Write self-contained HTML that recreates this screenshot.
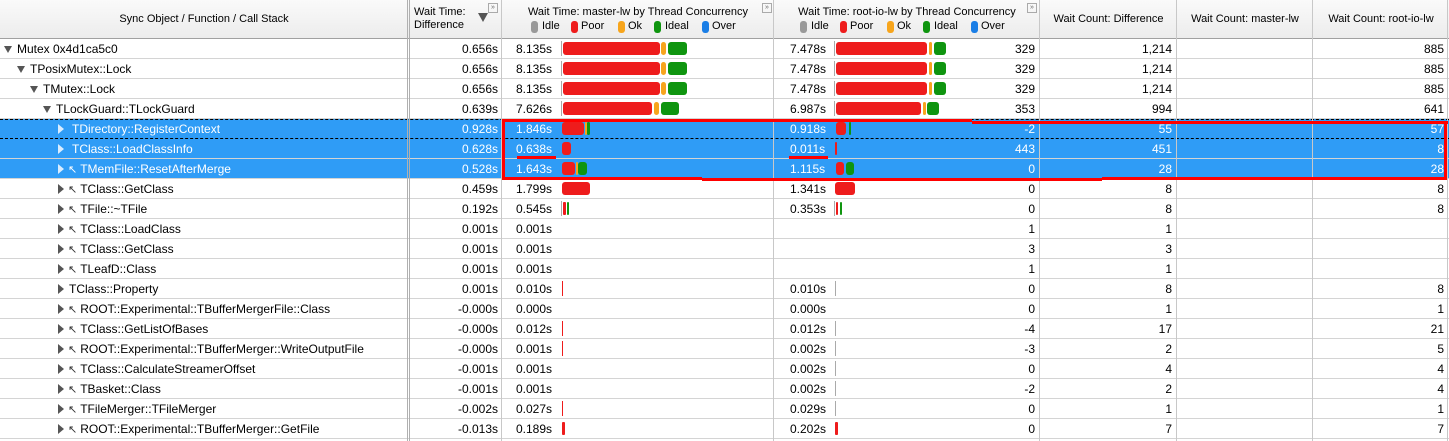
<!DOCTYPE html>
<html><head><meta charset="utf-8"><style>
body{margin:0;width:1449px;height:441px;background:#fff;font-family:"Liberation Sans",sans-serif;font-size:12px;color:#000;overflow:hidden;position:relative}
.h{position:absolute;top:0;left:0;width:1449px;height:38px;background:linear-gradient(#fafafa,#ececec);border-bottom:1px solid #a0a0a0}
.ht{position:absolute;text-align:center;font-size:11px;line-height:13px}
.vl{position:absolute;top:0;width:1px;height:441px;background:#c8c8c8}
.r{position:absolute;left:0;width:1449px;height:20px;border-bottom:1px solid #d4d4d4;box-sizing:border-box}
.s{background:#2f9cf6;color:#fff}
.r span{position:absolute;top:3px;white-space:nowrap}
.r span i{font-style:normal;font-size:11px;color:#333;margin-right:3px}
.s span i{color:#fff}
.rt{text-align:right}
.b{position:absolute;top:3px;height:13px;border-radius:3px}
.R{background:#ee1c1c}.O{background:#f7a51c}.G{background:#0f950f}
.t{position:absolute;top:4px;width:0;height:0}
.dn{border-left:4px solid transparent;border-right:4px solid transparent;border-top:7px solid #555;top:7px}
.rg{border-top:5px solid transparent;border-bottom:5px solid transparent;border-left:6px solid #555;top:5px}
.s .rg{border-left-color:#d8ecff}
.ln{position:absolute;top:2px;width:1px;height:15px;background:#aaa}
.lg{position:absolute;top:21px;height:12px;width:7px;border-radius:3px}
.red{position:absolute;background:#f00}
</style></head><body>
<div class="h">
<div class="ht" style="left:0;width:408px;top:13px">Sync Object / Function / Call Stack</div>
<div class="ht" style="left:414px;top:6px;text-align:left">Wait Time:<br>Difference</div>
<div style="position:absolute;left:478px;top:13px;border-left:5px solid transparent;border-right:5px solid transparent;border-top:9px solid #555"></div>
<div style="position:absolute;left:488px;top:3px;width:8px;height:8px;border:1px solid #aaa;font-size:7px;line-height:8px;color:#666;text-align:center">»</div>
<div class="ht" style="left:502px;width:272px;top:6px">Wait Time: master-lw by Thread Concurrency</div>
<div style="position:absolute;left:762px;top:3px;width:8px;height:8px;border:1px solid #aaa;font-size:7px;line-height:8px;color:#666;text-align:center">»</div>
<div class="lg" style="left:531px;background:#999"></div><div class="ht" style="left:542px;top:20px">Idle</div>
<div class="lg" style="left:571px;background:#ee1c1c"></div><div class="ht" style="left:581px;top:20px">Poor</div>
<div class="lg" style="left:618px;background:#f7a51c"></div><div class="ht" style="left:628px;top:20px">Ok</div>
<div class="lg" style="left:654px;background:#0f950f"></div><div class="ht" style="left:665px;top:20px">Ideal</div>
<div class="lg" style="left:702px;background:#1a7ee6"></div><div class="ht" style="left:712px;top:20px">Over</div>
<div class="ht" style="left:774px;width:266px;top:6px">Wait Time: root-io-lw by Thread Concurrency</div>
<div style="position:absolute;left:1027px;top:3px;width:8px;height:8px;border:1px solid #aaa;font-size:7px;line-height:8px;color:#666;text-align:center">»</div>
<div class="lg" style="left:800px;background:#999"></div><div class="ht" style="left:811px;top:20px">Idle</div>
<div class="lg" style="left:840px;background:#ee1c1c"></div><div class="ht" style="left:850px;top:20px">Poor</div>
<div class="lg" style="left:887px;background:#f7a51c"></div><div class="ht" style="left:897px;top:20px">Ok</div>
<div class="lg" style="left:923px;background:#0f950f"></div><div class="ht" style="left:934px;top:20px">Ideal</div>
<div class="lg" style="left:971px;background:#1a7ee6"></div><div class="ht" style="left:981px;top:20px">Over</div>
<div class="ht" style="left:1040px;width:137px;top:13px">Wait Count: Difference</div>
<div class="ht" style="left:1177px;width:136px;top:13px">Wait Count: master-lw</div>
<div class="ht" style="left:1313px;width:136px;top:13px">Wait Count: root-io-lw</div>
</div>

<div class="r" style="top:39px"><div class="t dn" style="left:4px"></div><span style="left:17px">Mutex 0x4d1ca5c0</span><span class="rt" style="right:951px">0.656s</span><span style="left:516px">8.135s</span><div class="ln" style="left:561px"></div><div class="b R" style="left:563px;width:97px"></div><div class="b O" style="left:661px;width:5px"></div><div class="b G" style="left:668px;width:19px"></div><span style="left:790px">7.478s</span><div class="ln" style="left:834px"></div><div class="b R" style="left:836px;width:91px"></div><div class="b O" style="left:929px;width:3px"></div><div class="b G" style="left:934px;width:12px"></div><span class="rt" style="right:414px">329</span><span class="rt" style="right:277px">1,214</span><span class="rt" style="right:5px">885</span></div>
<div class="r" style="top:59px"><div class="t dn" style="left:17px"></div><span style="left:30px">TPosixMutex::Lock</span><span class="rt" style="right:951px">0.656s</span><span style="left:516px">8.135s</span><div class="ln" style="left:561px"></div><div class="b R" style="left:563px;width:97px"></div><div class="b O" style="left:661px;width:5px"></div><div class="b G" style="left:668px;width:19px"></div><span style="left:790px">7.478s</span><div class="ln" style="left:834px"></div><div class="b R" style="left:836px;width:91px"></div><div class="b O" style="left:929px;width:3px"></div><div class="b G" style="left:934px;width:12px"></div><span class="rt" style="right:414px">329</span><span class="rt" style="right:277px">1,214</span><span class="rt" style="right:5px">885</span></div>
<div class="r" style="top:79px"><div class="t dn" style="left:30px"></div><span style="left:43px">TMutex::Lock</span><span class="rt" style="right:951px">0.656s</span><span style="left:516px">8.135s</span><div class="ln" style="left:561px"></div><div class="b R" style="left:563px;width:97px"></div><div class="b O" style="left:661px;width:5px"></div><div class="b G" style="left:668px;width:19px"></div><span style="left:790px">7.478s</span><div class="ln" style="left:834px"></div><div class="b R" style="left:836px;width:91px"></div><div class="b O" style="left:929px;width:3px"></div><div class="b G" style="left:934px;width:12px"></div><span class="rt" style="right:414px">329</span><span class="rt" style="right:277px">1,214</span><span class="rt" style="right:5px">885</span></div>
<div class="r" style="top:99px"><div class="t dn" style="left:43px"></div><span style="left:56px">TLockGuard::TLockGuard</span><span class="rt" style="right:951px">0.639s</span><span style="left:516px">7.626s</span><div class="ln" style="left:561px"></div><div class="b R" style="left:563px;width:89px"></div><div class="b O" style="left:654px;width:5px"></div><div class="b G" style="left:661px;width:18px"></div><span style="left:790px">6.987s</span><div class="ln" style="left:834px"></div><div class="b R" style="left:836px;width:85px"></div><div class="b O" style="left:923px;width:3px"></div><div class="b G" style="left:927px;width:12px"></div><span class="rt" style="right:414px">353</span><span class="rt" style="right:277px">994</span><span class="rt" style="right:5px">641</span></div>
<div class="r s" style="top:119px;border-bottom:1px dashed #000;border-top:1px dashed #000"><div class="t rg" style="left:58px;top:4px"></div><span style="left:72px;top:2px">TDirectory::RegisterContext</span><span class="rt" style="right:951px;top:2px">0.928s</span><span style="left:516px;top:2px">1.846s</span><div class="b R" style="left:562px;width:22px;top:2px"></div><div class="b O" style="left:585px;width:2px;top:2px"></div><div class="b G" style="left:587px;width:3px;top:2px"></div><span style="left:790px;top:2px">0.918s</span><div class="b R" style="left:836px;width:10px;top:2px"></div><div class="b G" style="left:849px;width:2px;top:2px"></div><span class="rt" style="right:414px;top:2px">-2</span><span class="rt" style="right:277px;top:2px">55</span><span class="rt" style="right:5px;top:2px">57</span></div>
<div class="r s" style="top:139px"><div class="t rg" style="left:58px"></div><span style="left:72px">TClass::LoadClassInfo</span><span class="rt" style="right:951px">0.628s</span><span style="left:516px">0.638s</span><div class="b R" style="left:562px;width:9px"></div><span style="left:790px">0.011s</span><div class="b R" style="left:835px;width:2px"></div><span class="rt" style="right:414px">443</span><span class="rt" style="right:277px">451</span><span class="rt" style="right:5px">8</span></div>
<div class="r s" style="top:159px"><div class="t rg" style="left:58px"></div><span style="left:68px"><i>↖</i>TMemFile::ResetAfterMerge</span><span class="rt" style="right:951px">0.528s</span><span style="left:516px">1.643s</span><div class="b R" style="left:562px;width:13px"></div><div class="b O" style="left:576px;width:2px"></div><div class="b G" style="left:578px;width:9px"></div><span style="left:790px">1.115s</span><div class="b R" style="left:836px;width:8px"></div><div class="b G" style="left:846px;width:8px"></div><span class="rt" style="right:414px">0</span><span class="rt" style="right:277px">28</span><span class="rt" style="right:5px">28</span></div>
<div class="r" style="top:179px"><div class="t rg" style="left:58px"></div><span style="left:68px"><i>↖</i>TClass::GetClass</span><span class="rt" style="right:951px">0.459s</span><span style="left:516px">1.799s</span><div class="b R" style="left:562px;width:28px"></div><span style="left:790px">1.341s</span><div class="b R" style="left:835px;width:20px"></div><span class="rt" style="right:414px">0</span><span class="rt" style="right:277px">8</span><span class="rt" style="right:5px">8</span></div>
<div class="r" style="top:199px"><div class="t rg" style="left:58px"></div><span style="left:68px"><i>↖</i>TFile::~TFile</span><span class="rt" style="right:951px">0.192s</span><span style="left:516px">0.545s</span><div class="ln" style="left:561px"></div><div class="b R" style="left:563px;width:3px;border-radius:1px"></div><div class="b G" style="left:567px;width:2px;border-radius:1px"></div><span style="left:790px">0.353s</span><div class="ln" style="left:834px"></div><div class="b R" style="left:836px;width:2px;border-radius:1px"></div><div class="b G" style="left:840px;width:2px;border-radius:1px"></div><span class="rt" style="right:414px">0</span><span class="rt" style="right:277px">8</span><span class="rt" style="right:5px">8</span></div>
<div class="r" style="top:219px"><div class="t rg" style="left:58px"></div><span style="left:68px"><i>↖</i>TClass::LoadClass</span><span class="rt" style="right:951px">0.001s</span><span style="left:516px">0.001s</span><span class="rt" style="right:414px">1</span><span class="rt" style="right:277px">1</span></div>
<div class="r" style="top:239px"><div class="t rg" style="left:58px"></div><span style="left:68px"><i>↖</i>TClass::GetClass</span><span class="rt" style="right:951px">0.001s</span><span style="left:516px">0.001s</span><span class="rt" style="right:414px">3</span><span class="rt" style="right:277px">3</span></div>
<div class="r" style="top:259px"><div class="t rg" style="left:58px"></div><span style="left:68px"><i>↖</i>TLeafD::Class</span><span class="rt" style="right:951px">0.001s</span><span style="left:516px">0.001s</span><span class="rt" style="right:414px">1</span><span class="rt" style="right:277px">1</span></div>
<div class="r" style="top:279px"><div class="t rg" style="left:58px"></div><span style="left:69px">TClass::Property</span><span class="rt" style="right:951px">0.001s</span><span style="left:516px">0.010s</span><div class="ln" style="left:562px;background:#ee1c1c"></div><span style="left:790px">0.010s</span><div class="ln" style="left:835px"></div><span class="rt" style="right:414px">0</span><span class="rt" style="right:277px">8</span><span class="rt" style="right:5px">8</span></div>
<div class="r" style="top:299px"><div class="t rg" style="left:58px"></div><span style="left:68px"><i>↖</i>ROOT::Experimental::TBufferMergerFile::Class</span><span class="rt" style="right:951px">-0.000s</span><span style="left:516px">0.000s</span><span style="left:790px">0.000s</span><span class="rt" style="right:414px">0</span><span class="rt" style="right:277px">1</span><span class="rt" style="right:5px">1</span></div>
<div class="r" style="top:319px"><div class="t rg" style="left:58px"></div><span style="left:68px"><i>↖</i>TClass::GetListOfBases</span><span class="rt" style="right:951px">-0.000s</span><span style="left:516px">0.012s</span><div class="ln" style="left:562px;background:#ee1c1c"></div><span style="left:790px">0.012s</span><div class="ln" style="left:835px"></div><span class="rt" style="right:414px">-4</span><span class="rt" style="right:277px">17</span><span class="rt" style="right:5px">21</span></div>
<div class="r" style="top:339px"><div class="t rg" style="left:58px"></div><span style="left:68px"><i>↖</i>ROOT::Experimental::TBufferMerger::WriteOutputFile</span><span class="rt" style="right:951px">-0.000s</span><span style="left:516px">0.001s</span><div class="ln" style="left:562px;background:#ee1c1c"></div><span style="left:790px">0.002s</span><div class="ln" style="left:835px"></div><span class="rt" style="right:414px">-3</span><span class="rt" style="right:277px">2</span><span class="rt" style="right:5px">5</span></div>
<div class="r" style="top:359px"><div class="t rg" style="left:58px"></div><span style="left:68px"><i>↖</i>TClass::CalculateStreamerOffset</span><span class="rt" style="right:951px">-0.001s</span><span style="left:516px">0.001s</span><span style="left:790px">0.002s</span><div class="ln" style="left:835px"></div><span class="rt" style="right:414px">0</span><span class="rt" style="right:277px">4</span><span class="rt" style="right:5px">4</span></div>
<div class="r" style="top:379px"><div class="t rg" style="left:58px"></div><span style="left:68px"><i>↖</i>TBasket::Class</span><span class="rt" style="right:951px">-0.001s</span><span style="left:516px">0.001s</span><span style="left:790px">0.002s</span><div class="ln" style="left:835px"></div><span class="rt" style="right:414px">-2</span><span class="rt" style="right:277px">2</span><span class="rt" style="right:5px">4</span></div>
<div class="r" style="top:399px"><div class="t rg" style="left:58px"></div><span style="left:68px"><i>↖</i>TFileMerger::TFileMerger</span><span class="rt" style="right:951px">-0.002s</span><span style="left:516px">0.027s</span><div class="ln" style="left:562px;background:#ee1c1c"></div><span style="left:790px">0.029s</span><div class="ln" style="left:835px"></div><span class="rt" style="right:414px">0</span><span class="rt" style="right:277px">1</span><span class="rt" style="right:5px">1</span></div>
<div class="r" style="top:419px"><div class="t rg" style="left:58px"></div><span style="left:68px"><i>↖</i>ROOT::Experimental::TBufferMerger::GetFile</span><span class="rt" style="right:951px">-0.013s</span><span style="left:516px">0.189s</span><div class="b R" style="left:562px;width:3px;border-radius:1px"></div><span style="left:790px">0.202s</span><div class="b R" style="left:835px;width:3px;border-radius:1px"></div><span class="rt" style="right:414px">0</span><span class="rt" style="right:277px">7</span><span class="rt" style="right:5px">7</span></div>

<div class="vl" style="left:407px;background:#b0b0b0"></div><div class="vl" style="left:409px;background:#b0b0b0"></div>
<div class="vl" style="left:501px"></div><div class="vl" style="left:773px"></div><div class="vl" style="left:1039px"></div><div class="vl" style="left:1176px"></div><div class="vl" style="left:1312px"></div><div class="vl" style="left:1447px"></div>

<div class="red" style="left:502px;top:119px;width:470px;height:3px"></div>
<div class="red" style="left:972px;top:121px;width:476px;height:3px"></div>
<div class="red" style="left:502px;top:119px;width:3px;height:61px"></div>
<div class="red" style="left:1444px;top:121px;width:3px;height:59px"></div>
<div class="red" style="left:502px;top:177px;width:200px;height:3px"></div>
<div class="red" style="left:702px;top:178px;width:400px;height:3px"></div>
<div class="red" style="left:1102px;top:177px;width:345px;height:3px"></div>
<div class="red" style="left:517px;top:156px;width:39px;height:3px"></div>
<div class="red" style="left:789px;top:156px;width:39px;height:3px"></div>
</body></html>
